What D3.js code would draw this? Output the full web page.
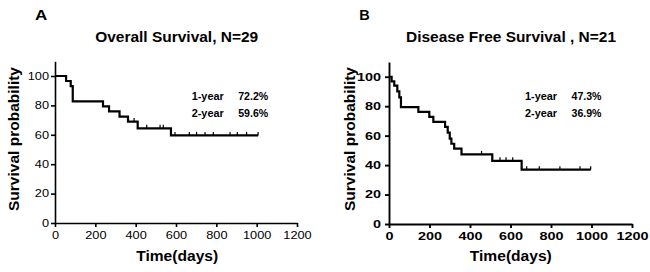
<!DOCTYPE html>
<html>
<head>
<meta charset="utf-8">
<script src="https://cdn.jsdelivr.net/npm/d3@7"></script>
<style>
  body { margin: 0; background: #fff; }
  svg { display: block; font-family: "Liberation Sans", Arial, sans-serif; }
</style>
</head>
<body>
<div id="main"></div>
<script>
// Overall survival (step times in days, survival %)
const osTime = [0, 55, 78, 88, 238, 268, 320, 362, 410, 575];
const osSurv = [100, 96.6, 93.1, 82.8, 79.3, 75.9, 72.4, 69.0, 64.4, 59.6];
const osCensor = [392, 455, 521, 537, 595, 666, 702, 744, 785, 868, 904, 950, 1007];
const osEnd = 1007;

// Disease free survival
const dfsTime = [0, 13, 26, 41, 51, 59, 145, 199, 219, 277, 290, 300, 308, 322, 358, 510, 655];
const dfsSurv = [100, 96.8, 94, 90, 86, 79.4, 76.2, 72.8, 69.4, 66, 62, 58, 54.5, 51.2, 47.3, 42.9, 36.9];
const dfsCensor = [457, 548, 578, 611, 680, 742, 844, 943, 996];
const dfsEnd = 996;

const xTicks = [0, 200, 400, 600, 800, 1000, 1200];
const yTicks = [0, 20, 40, 60, 80, 100];
const osRates = [["1-year", "72.2%"], ["2-year", "59.6%"]];
const dfsRates = [["1-year", "47.3%"], ["2-year", "36.9%"]];

const ctx = { WIDTH: 650, HEIGHT: 272 };

function survAt(times, surv, t) {
  let s = surv[0];
  times.forEach((tt, i) => { if (tt <= t) s = surv[i]; });
  return s;
}

function drawPanel(svg, p) {
  const x = d3.scaleLinear().domain([0, 1200]).range([p.x0, p.x1]);
  const y = d3.scaleLinear().domain([0, 110]).range([p.y0, p.y1]);
  const fmt = d3.format("d");
  const g = svg.append("g");

  // axes
  const ax = g.append("g")
      .attr("transform", `translate(0,${p.y0})`)
      .call(d3.axisBottom(x).tickValues(xTicks).tickFormat(fmt).tickSize(4).tickSizeOuter(0));
  const ay = g.append("g")
      .attr("transform", `translate(${p.x0},0)`)
      .call(d3.axisLeft(y).tickValues(yTicks).tickFormat(fmt).tickSize(4).tickSizeOuter(0).tickPadding(p.yPad));
  [ax, ay].forEach(a => {
    a.selectAll("path, line").attr("stroke", "#000").attr("stroke-width", p.axisW);
    a.selectAll("text")
      .attr("fill", "#000")
      .style("font-size", "10.5px")
      .style("font-weight", p.tickWeight)
      .attr("textLength", d => fmt(d).length * p.digitW)
      .attr("lengthAdjust", "spacingAndGlyphs");
  });
  ax.selectAll("text").attr("dy", "0.71em").attr("y", 9);

  // survival curve
  const pts = p.time.map((t, i) => [t, p.surv[i]]);
  pts.push([p.end, p.surv[p.surv.length - 1]]);
  const line = d3.line()
      .x(d => x(d[0])).y(d => y(d[1]))
      .curve(d3.curveStepAfter);
  g.append("path")
      .attr("d", line(pts))
      .attr("fill", "none")
      .attr("stroke", "#000")
      .attr("stroke-width", 2.2);

  // censor marks
  g.selectAll(".cens").data(p.censor).enter().append("line")
      .attr("x1", d => x(d)).attr("x2", d => x(d))
      .attr("y1", d => y(survAt(p.time, p.surv, d)))
      .attr("y2", d => y(survAt(p.time, p.surv, d)) - 3.5)
      .attr("stroke", "#000").attr("stroke-width", 1.2);

  // letter and title
  svg.append("text").attr("x", p.letterX).attr("y", 19.5)
      .attr("textLength", p.letterW).attr("lengthAdjust", "spacingAndGlyphs")
      .style("font-size", "15.5px").style("font-weight", "bold")
      .text(p.letter);
  svg.append("text").attr("x", p.titleX).attr("y", 41.5)
      .attr("text-anchor", "middle")
      .attr("textLength", p.titleW).attr("lengthAdjust", "spacingAndGlyphs")
      .style("font-size", "14px").style("font-weight", "bold")
      .text(p.title);

  // axis labels
  svg.append("text")
      .attr("transform", `translate(${p.yLabX},139) rotate(-90)`)
      .attr("text-anchor", "middle")
      .attr("textLength", 144).attr("lengthAdjust", "spacingAndGlyphs")
      .style("font-size", "14px").style("font-weight", "bold")
      .text("Survival probability");
  svg.append("text")
      .attr("x", p.xLabX).attr("y", 260.5)
      .attr("text-anchor", "middle")
      .attr("textLength", 82).attr("lengthAdjust", "spacingAndGlyphs")
      .style("font-size", "14.5px").style("font-weight", "bold")
      .text("Time(days)");

  // 1-year / 2-year rates
  p.rates.forEach((r, i) => {
    const yy = 100 + i * 16.5;
    svg.append("text").attr("x", p.rateX).attr("y", yy)
        .attr("textLength", 32).attr("lengthAdjust", "spacingAndGlyphs")
        .style("font-size", "10.5px").style("font-weight", "bold")
        .text(r[0]);
    svg.append("text").attr("x", p.rateX + 46.5).attr("y", yy)
        .attr("textLength", 30).attr("lengthAdjust", "spacingAndGlyphs")
        .style("font-size", "10.5px").style("font-weight", "bold")
        .text(r[1]);
  });
}

function createViz() {
  const svg = d3.select("#main").append("svg")
      .attr("width", ctx.WIDTH).attr("height", ctx.HEIGHT);

  drawPanel(svg, {
    x0: 55, x1: 297, y0: 223, y1: 61.3,
    time: osTime, surv: osSurv, censor: osCensor, end: osEnd,
    axisW: 1.6, tickWeight: "normal", digitW: 7.1, yPad: 2,
    letter: "A", letterX: 35, letterW: 12.3, title: "Overall Survival, N=29", titleX: 176.7, titleW: 163,
    yLabX: 19, xLabX: 177.2, rates: osRates, rateX: 191.7
  });
  drawPanel(svg, {
    x0: 389, x1: 632, y0: 224, y1: 62,
    time: dfsTime, surv: dfsSurv, censor: dfsCensor, end: dfsEnd,
    axisW: 1.9, tickWeight: "bold", digitW: 8.0, yPad: 4,
    letter: "B", letterX: 359.3, letterW: 10.5, title: "Disease Free Survival , N=21", titleX: 511, titleW: 210,
    yLabX: 355, xLabX: 510.8, rates: dfsRates, rateX: 525
  });
}

createViz();
</script>
</body>
</html>
